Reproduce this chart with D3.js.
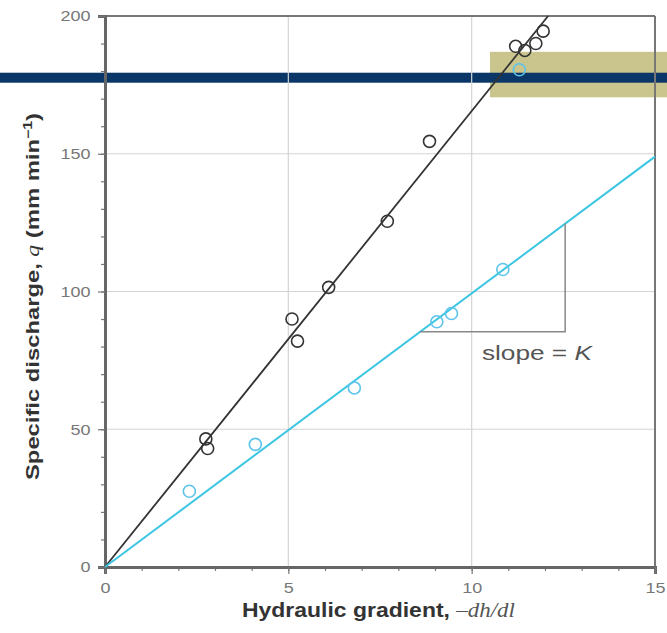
<!DOCTYPE html>
<html>
<head>
<meta charset="utf-8">
<script src="https://cdn.jsdelivr.net/npm/d3@7"></script>
<style>
  body { margin: 0; background: #fff; }
  svg { display: block; font-family: "Liberation Sans", Arial, sans-serif; }
</style>
</head>
<body>
<div id="chart"></div>
<script>
const blackX = [2.75, 2.8, 5.1, 5.25, 6.1, 7.7, 8.85, 11.2, 11.45, 11.75, 11.95];
const blackY = [46.5, 43, 90, 82, 101.5, 125.5, 154.5, 189, 187.5, 190, 194.5];
const cyanX = [2.3, 4.1, 6.8, 9.05, 9.45, 10.85, 11.3];
const cyanY = [27.5, 44.5, 65, 89, 92, 108, 180.5];

// fitted lines, slope = K
const blackSlope = 16.55;
const cyanSlope = 9.93;

const xTicks = [0, 5, 10, 15];
const yTicks = [0, 50, 100, 150, 200];

var margin = { top: 16, right: 12, bottom: 66, left: 105 },
  width = 667 - margin.left - margin.right,
  height = 633 - margin.top - margin.bottom;

var svg = d3.select("#chart").append("svg")
  .attr("width", 667)
  .attr("height", 633);

var x = d3.scaleLinear().domain([0, 15]).range([0, width]);
var y = d3.scaleLinear().domain([0, 200]).range([height, 0]);

// highlight box + bar (annotation overlay, kept behind data)
var bg = svg.append("g");
bg.append("rect")
  .attr("x", margin.left + x(10.5)).attr("y", margin.top + y(187))
  .attr("width", 667).attr("height", y(170.5) - y(187))
  .style("fill", "#c9c58c");
bg.append("rect")
  .attr("x", 0).attr("y", margin.top + y(177.6) - 5)
  .attr("width", 667).attr("height", 10)
  .style("fill", "#0b3768");

var g = svg.append("g")
  .attr("transform", "translate(" + margin.left + "," + margin.top + ")");

// gridlines
g.append("g").selectAll("line").data([5, 10]).enter().append("line")
  .attr("x1", d => x(d)).attr("x2", d => x(d))
  .attr("y1", 0).attr("y2", height)
  .style("stroke", "#d4d4d4").style("stroke-width", 1.2);
g.append("g").selectAll("line").data([50, 100, 150]).enter().append("line")
  .attr("x1", 0).attr("x2", width)
  .attr("y1", d => y(d)).attr("y2", d => y(d))
  .style("stroke", "#d4d4d4").style("stroke-width", 1.2);

// frame top/right
g.append("line").attr("x1", 0).attr("x2", width).attr("y1", 0).attr("y2", 0)
  .style("stroke", "#777").style("stroke-width", 2);
g.append("line").attr("x1", width).attr("x2", width).attr("y1", 0).attr("y2", height)
  .style("stroke", "#777").style("stroke-width", 2);

// minor ticks
var xMinor = g.append("g").attr("transform", "translate(0," + height + ")")
  .call(d3.axisBottom(x).ticks(15).tickSize(4).tickFormat(""));
var yMinor = g.append("g")
  .call(d3.axisLeft(y).ticks(20).tickSize(4).tickFormat(""));

// major axes
var xAxis = g.append("g").attr("transform", "translate(0," + height + ")")
  .call(d3.axisBottom(x).tickValues(xTicks).tickSize(7).tickPadding(8).tickFormat(d3.format("d")));
var yAxis = g.append("g")
  .call(d3.axisLeft(y).tickValues(yTicks).tickSize(7).tickPadding(7).tickFormat(d3.format("d")));

[xMinor, yMinor, xAxis, yAxis].forEach(a => {
  a.selectAll(".tick line").style("stroke", "#777").style("stroke-width", 1.2);
  a.select(".domain").style("stroke", "#666").style("stroke-width", 3);
});
[xAxis, yAxis].forEach(a => {
  a.selectAll(".tick text").style("font-size", "15px").style("fill", "#777")
    .style("font-family", "'Liberation Sans', Arial, sans-serif");
});
// the figure's lettering is wide, stretch it a bit
xAxis.selectAll(".tick text").attr("transform", "scale(1.2,1)");
yAxis.selectAll(".tick text").attr("x", -12).attr("transform", "scale(1.2,1)");

// fit lines
g.append("line")
  .attr("x1", x(0)).attr("y1", y(0))
  .attr("x2", x(200 / blackSlope)).attr("y2", y(200))
  .style("stroke", "#333").style("stroke-width", 1.8);
g.append("line")
  .attr("x1", x(0)).attr("y1", y(0))
  .attr("x2", x(15)).attr("y2", y(15 * cyanSlope))
  .style("stroke", "#3cc6e2").style("stroke-width", 2);

// slope triangle
var sx0 = 8.6, sx1 = 12.55;
g.append("path")
  .attr("d", "M" + x(sx0) + "," + y(cyanSlope * sx0) +
    "H" + x(sx1) + "V" + y(cyanSlope * sx1))
  .style("fill", "none").style("stroke", "#888").style("stroke-width", 1.5);

var lbl = g.append("text")
  .attr("x", x(10.28)).attr("y", y(cyanSlope * sx0) + 28)
  .attr("textLength", 110).attr("lengthAdjust", "spacingAndGlyphs")
  .style("font-size", "21px").style("fill", "#555");
lbl.append("tspan").text("slope = ");
lbl.append("tspan").style("font-style", "italic").text("K");

// data points
g.append("g").selectAll("circle")
  .data(blackX.map((d, i) => [d, blackY[i]]))
  .enter().append("circle")
  .attr("cx", d => x(d[0])).attr("cy", d => y(d[1])).attr("r", 6)
  .style("fill", "none").style("stroke", "#333").style("stroke-width", 1.6);
g.append("g").selectAll("circle")
  .data(cyanX.map((d, i) => [d, cyanY[i]]))
  .enter().append("circle")
  .attr("cx", d => x(d[0])).attr("cy", d => y(d[1])).attr("r", 6)
  .style("fill", "none").style("stroke", "#5cc4ea").style("stroke-width", 1.6);

// axis titles
var xt = svg.append("text")
  .attr("x", 242).attr("y", 617)
  .attr("textLength", 273).attr("lengthAdjust", "spacingAndGlyphs")
  .style("font-size", "20px").style("font-weight", "bold").style("fill", "#333");
xt.append("tspan").text("Hydraulic gradient, ");
xt.append("tspan").style("font-style", "italic").style("font-weight", "normal")
  .style("font-family", "'Liberation Serif', serif").style("fill", "#555").text("–dh/dl");

var yt = svg.append("text")
  .attr("transform", "translate(39,480) rotate(-90)")
  .attr("textLength", 367).attr("lengthAdjust", "spacingAndGlyphs")
  .style("font-size", "18px").style("font-weight", "bold").style("fill", "#333");
yt.append("tspan").text("Specific discharge, ");
yt.append("tspan").style("font-style", "italic").style("font-weight", "normal")
  .style("font-family", "'Liberation Serif', serif").text("q");
yt.append("tspan").text(" (mm min");
yt.append("tspan").attr("dy", -7).style("font-size", "12px").text("−1");
yt.append("tspan").attr("dy", 7).text(")");
</script>
</body>
</html>
